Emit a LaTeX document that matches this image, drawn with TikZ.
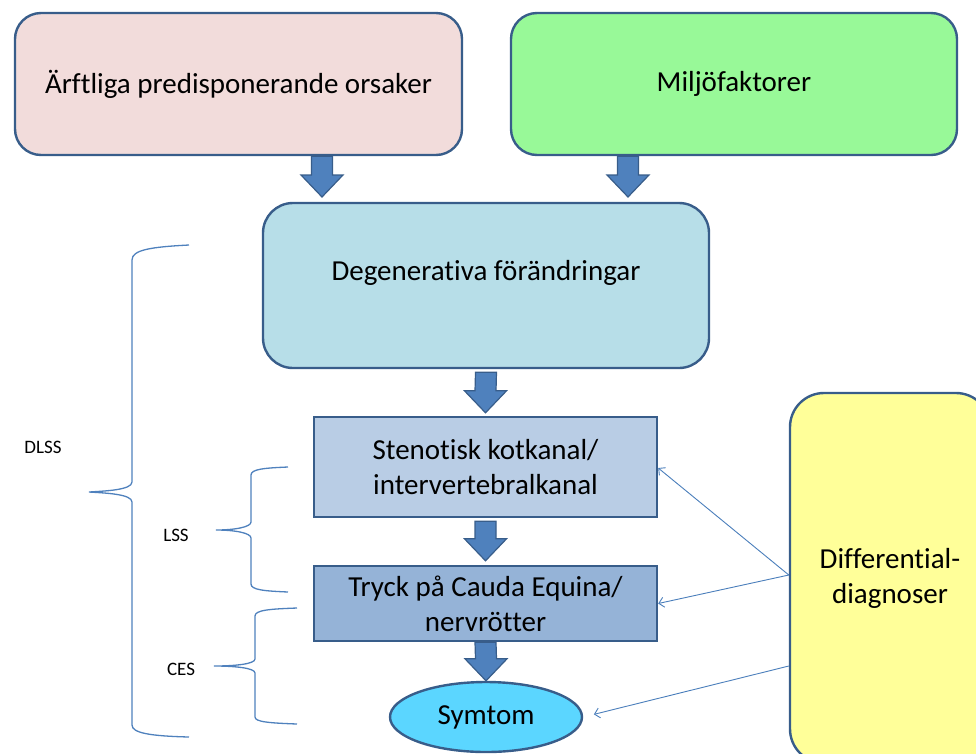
\documentclass[tikz,border=0pt]{standalone}
\usepackage{fontspec}
\setmainfont[Ligatures=NoCommon]{Carlito}
\usetikzlibrary{calc,arrows.meta,shapes.geometric}
\definecolor{bord}{HTML}{385D8A}
\definecolor{arrfill}{HTML}{4F81BD}
\definecolor{thinc}{HTML}{4A7EBB}
\definecolor{pinkf}{HTML}{F2DCDB}
\definecolor{greenf}{HTML}{98F998}
\definecolor{degf}{HTML}{B7DEE8}
\definecolor{stenf}{HTML}{B9CDE5}
\definecolor{tryckf}{HTML}{95B3D7}
\definecolor{yellf}{HTML}{FFFF99}
\definecolor{symf}{HTML}{5BD6FF}
\tikzset{
  bigbox/.style={draw=bord, line width=2.4pt, rounded corners=26pt, align=center,
     font=\fontsize{29}{35}\selectfont, inner sep=0pt},
  flatbox/.style={draw=bord, line width=2.4pt, align=center,
     font=\fontsize{29}{35}\selectfont, inner sep=0pt},
  fat/.style={draw=bord, line width=1.2pt, fill=arrfill, line join=miter},
  thinarr/.style={draw=thinc, line width=0.9pt, -{Straight Barb[length=5pt,width=10pt]}},
  bracestyle/.style={draw=arrfill, line width=1.3pt},
  lbl/.style={font=\fontsize{19}{22}\selectfont, inner sep=0pt}
}
\newcommand\fatarr[2]{%
  \draw[fat] ($(#1)+(-10.5,0)$) -- ($(#2)+(-10.5,-22)$) -- ($(#2)+(-21,-22)$) -- (#2)
    -- ($(#2)+(21,-22)$) -- ($(#2)+(10.5,-22)$) -- ($(#1)+(10.5,0)$) -- cycle;}
\begin{document}
\begin{tikzpicture}[x=1pt,y=-1pt]
\useasboundingbox (0,0) rectangle (976,753);
\clip (0,0) rectangle (976,753);

% boxes
\node[bigbox, fill=pinkf, minimum width=447pt, minimum height=142pt] (arv) at (238.5,84) {Ärftliga predisponerande orsaker};
\node[bigbox, fill=greenf, minimum width=446pt, minimum height=142pt] (milj) at (734,84) {Miljöfaktorer};
\node[bigbox, fill=degf, rounded corners=30pt, minimum width=446pt, minimum height=165pt] (deg) at (486,285.5) {};
\node[font=\fontsize{29}{35}\selectfont, inner sep=0pt] (degtext) at ($(deg.center)+(0,-13)$) {Degenerativa förändringar};
\node[flatbox, fill=stenf, minimum width=343pt, minimum height=100pt] (sten) at (485.5,467) {Stenotisk kotkanal/\\intervertebralkanal};
\node[flatbox, fill=tryckf, minimum width=343pt, minimum height=75pt] (tryck) at (485.5,603.5) {Tryck på Cauda Equina/\\nervrötter};
\node[ellipse, draw=bord, line width=2.4pt, fill=symf, minimum width=192pt, minimum height=70pt, inner sep=0pt,
      font=\fontsize{29}{35}\selectfont] (sym) at (486,717) {Symtom};
\node[bigbox, fill=yellf, rounded corners=34pt, minimum width=200pt, minimum height=370pt] (diff) at (890,578) {Differential-\\diagnoser};

% fat arrows
\coordinate (a1s) at ([xshift=83.5pt]arv.south);
\coordinate (a1e) at (322,197);
\fatarr{a1s}{a1e}
\coordinate (a2s) at ([xshift=-106pt]milj.south);
\coordinate (a2e) at (628,197);
\fatarr{a2s}{a2e}
\coordinate (a3s) at ([yshift=-3pt]deg.south);
\coordinate (a3e) at ([yshift=3pt]sten.north);
\fatarr{a3s}{a3e}
\coordinate (a4s) at ([yshift=-3pt]sten.south);
\coordinate (a4e) at ([yshift=4pt]tryck.north);
\fatarr{a4s}{a4e}
\coordinate (a5s) at (tryck.south);
\coordinate (a5e) at (sym.north);
\fatarr{a5s}{a5e}

% thin arrows
\draw[thinarr] ([yshift=3pt]diff.west) -- ([yshift=-1pt]sten.east);
\draw[thinarr] ([yshift=3pt]diff.west) -- (tryck.east);
\draw[thinarr, shorten >=11pt] ([yshift=-88pt]diff.west) -- (sym.east);

% braces
\draw[bracestyle] (189,245) .. controls (150,247) and (132,250) .. (132,260)
  -- (132,482) .. controls (132,490) and (105,491) .. (89,492)
  .. controls (105,493) and (132,494) .. (132,502)
  -- (132,725) .. controls (132,733) and (150,736) .. (189,737);
\draw[bracestyle] (288,467) .. controls (265,468) and (251,469) .. (251,475)
  -- (251,522) .. controls (251,527) and (235,530) .. (216,530)
  .. controls (235,530) and (251,533) .. (251,538)
  -- (251,584) .. controls (251,590) and (265,591) .. (288,592);
\draw[bracestyle] (297,608) .. controls (270,609) and (255,610) .. (255,616)
  -- (255,659) .. controls (255,664) and (235,666) .. (214,666)
  .. controls (235,666) and (255,668) .. (255,673)
  -- (255,717) .. controls (255,722) and (270,723) .. (297,724);

% labels
\node[lbl] (dlss) at (43,447) {DLSS};
\node[lbl] (lss) at (176,535) {LSS};
\node[lbl] (ces) at (181,669) {CES};
\end{tikzpicture}
\end{document}
